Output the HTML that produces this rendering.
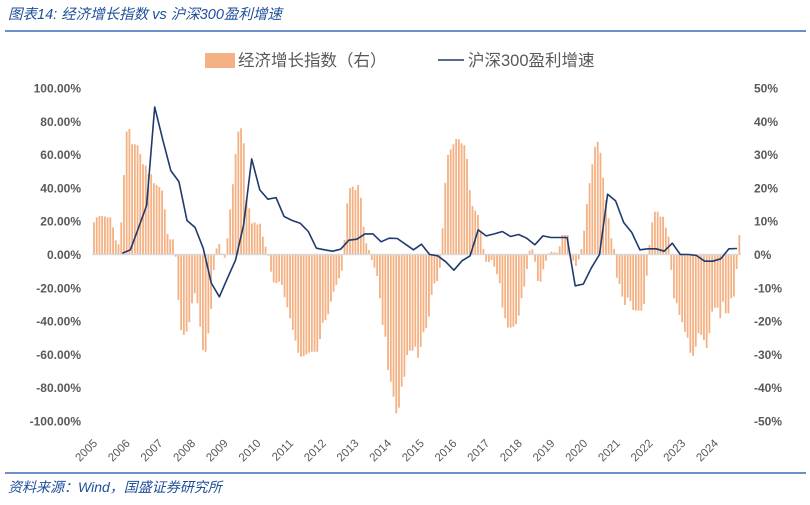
<!DOCTYPE html>
<html><head><meta charset="utf-8">
<style>
html,body{margin:0;padding:0;background:#fff;}
body{width:810px;height:500px;overflow:hidden;position:relative;font-family:"Liberation Sans","Noto Sans CJK SC",sans-serif;}
</style></head>
<body>
<svg id="chart" width="810" height="500" viewBox="0 0 810 500" xmlns="http://www.w3.org/2000/svg">
  <text x="8" y="19" font-size="14.5" font-style="italic" fill="#1f4e9a" font-family="Liberation Sans, Noto Sans CJK SC, sans-serif">图表14:  经济增长指数  vs  沪深300盈利增速</text>
  <line x1="5" y1="31" x2="806" y2="31" stroke="#3a6db5" stroke-width="1.5"/>
  <g>
    <rect x="205" y="53" width="30" height="15" fill="#f4b183"/>
    <text x="238" y="66" font-size="16.5" fill="#595959">经济增长指数（右）</text>
    <line x1="438" y1="60" x2="464" y2="60" stroke="#1f3a6e" stroke-width="1.5"/>
    <text x="468" y="66" font-size="16.5" fill="#595959">沪深300盈利增速</text>
  </g>
  <g id="leftAxis"></g>
  <g id="rightAxis"></g>
  <g id="bars"></g>
  <line id="zero" x1="92" x2="741" stroke="#d9d9d9" stroke-width="1.5"/>
  <polyline id="line" fill="none" stroke="#1f3a6e" stroke-width="1.6" stroke-linejoin="round"/>
  <g id="xAxis"></g>
  <line x1="5" y1="473" x2="806" y2="473" stroke="#3a6db5" stroke-width="1.5"/>
  <text x="8" y="492" font-size="14" font-style="italic" fill="#1f4e9a">资料来源：Wind，国盛证券研究所</text>
</svg>
<script>
// data
const years = [2005,2006,2007,2008,2009,2010,2011,2012,2013,2014,2015,2016,2017,2018,2019,2020,2021,2022,2023,2024];
const leftTicks = [100,80,60,40,20,0,-20,-40,-60,-80,-100];
const rightTicks = [50,40,30,20,10,0,-10,-20,-30,-40,-50];
// monthly growth index values (left-axis % equivalent scale), Jan 2005 onward
const indexValues = [19.3,22.3,23.1,23.1,22.8,22.3,22.3,16.3,8.5,6.1,19.3,47.7,
73.8,75.4,66.2,66.2,65.6,60.4,54.2,53.4,48.2,48.2,42.8,41.8,
40.5,38.5,27.1,12.3,9.1,9.1,-1.3,-27.3,-45.3,-48.3,-46.3,-40.7,
-29.3,-23.3,-29.3,-43.3,-57.4,-58.4,-47.3,-32.7,-9.3,3.7,6.3,0.7,
-1.9,9.7,27.1,42.2,60.4,73.8,75.8,66.8,32.7,27.7,18.7,19.3,
18,18.5,10.7,4.7,-0.7,-10.3,-16.7,-17.3,-16.3,-18.3,-25.7,-31.7,
-38.3,-45.3,-51.7,-59,-61.4,-61,-60,-59,-58.4,-58.4,-58.4,-50.8,
-41,-39.3,-35.9,-28.3,-22.3,-18.3,-14.3,-9.7,8.7,30.7,39.8,40.8,
38.7,41.7,34.1,16.7,6.7,2.7,-3.3,-7.9,-12.9,-26.3,-42.3,-49.4,
-69.4,-76.4,-85.4,-95.4,-92,-79.4,-73.4,-60.4,-57.8,-57.8,-55.4,-62,
-55.5,-46.7,-44.3,-37.3,-24.3,-17.3,-15.9,-7.9,15.7,43.1,59.8,63.2,
66.2,69.4,69.2,66.8,65.6,57.4,38.7,29.1,26.3,23.7,14.1,3.3,
-4.3,-4.5,-3.3,-7.3,-11.9,-17.3,-31.9,-38.3,-43.9,-43.9,-43.3,-41.9,
-36.7,-26.3,-19.3,-8.7,2.3,3.1,-4.3,-15.9,-16.3,-8.9,-3.7,0.7,
1.7,1.3,1.1,4.9,11.7,11.7,11.7,-2.3,-3.7,-6.9,-2.9,3.3,
14.3,30.3,42.8,54.2,64.7,67.7,61.1,46.1,32.7,21.7,9.7,3.3,
-13.9,-17.7,-25.3,-30.3,-25.9,-27.9,-33.3,-33.7,-33.7,-33.7,-29.7,-12.7,
5.7,19.3,25.7,25.7,22.7,22.7,16.1,10.7,-9.3,-26.3,-29.3,-36.3,
-40.7,-46.4,-50,-59,-60.8,-55.4,-47.3,-48.3,-51.4,-56.3,-47.3,-34.3,
-31.9,-31.9,-38.3,-28.3,-35.3,-35.3,-26.3,-25.3,-8.7,11.7];
// quarterly CSI300 profit growth (right axis, %)
const profitValues = [0.4,1.4,8.0,14.7,44.3,34.4,25.2,21.9,10.2,8.1,1.9,-8.6,-12.7,-7.1,-1.7,8.9,28.7,
19.4,16.6,17.1,11.4,10.2,9.4,6.9,1.9,1.4,1.0,1.6,4.3,4.6,6.2,6.2,3.8,4.9,4.8,3.1,1.4,3.1,
0,-0.4,-2.2,-4.7,-1.9,-0.4,7.4,5.6,6.2,6.9,5.4,6.0,4.9,2.9,5.6,5.1,5.1,5.1,
-9.4,-8.9,-4.0,0,18.1,16.1,9.6,6.6,1.4,1.7,1.7,1.0,3.4,0,0,-0.3,-2,-2,-1.3,1.7,1.8];
const profitStartMonth = 10.4;
const profitStepMonths = 2.97;

// scales
const X0 = 94, MSTEP = 2.723;
const Y0 = 254.5, PXL = 1.665; // left px per %
const xM = m => X0 + m*MSTEP;
const yL = v => Y0 - v*PXL;
const yR = v => Y0 - v*PXL*2;
const NS = "http://www.w3.org/2000/svg";
function mk(tag, attrs){const e=document.createElementNS(NS,tag);for(const k in attrs)e.setAttribute(k,attrs[k]);return e;}

const la=document.getElementById('leftAxis');
leftTicks.forEach(t=>{
  const e=mk('text',{x:81,y:yL(t)+4.5,'text-anchor':'end','font-size':12,'font-weight':'bold',fill:'#595959'});
  
  
  e.textContent=t.toFixed(2)+'%';la.appendChild(e);
});
const ra=document.getElementById('rightAxis');
rightTicks.forEach(t=>{
  const e=mk('text',{x:754,y:yR(t)+4.5,'font-size':12,'font-weight':'bold',fill:'#595959'});
  
  
  e.textContent=t+'%';ra.appendChild(e);
});
const bg=document.getElementById('bars');
indexValues.forEach((v,i)=>{
  const x=xM(i), y=yL(v);
  const r=mk('rect',{x:x-0.9,y:Math.min(y,Y0),width:1.8,height:Math.abs(Y0-y),fill:'#f4b183'});
  
  
  bg.appendChild(r);
});
const z=document.getElementById('zero');z.setAttribute('y1',Y0);z.setAttribute('y2',Y0);
document.getElementById('line').setAttribute('points',profitValues.map((v,k)=>xM(profitStartMonth+k*profitStepMonths).toFixed(1)+','+yR(v).toFixed(1)).join(' '));
const xa=document.getElementById('xAxis');
years.forEach((yr,i)=>{
  const x=xM(i*12)+4, y=444;
  const e=mk('text',{x:x,y:y,'text-anchor':'end','font-size':11.5,fill:'#595959',transform:`rotate(-45 ${x} ${y})`});
  
  
  e.textContent=yr;xa.appendChild(e);
});
</script>
</body></html>
